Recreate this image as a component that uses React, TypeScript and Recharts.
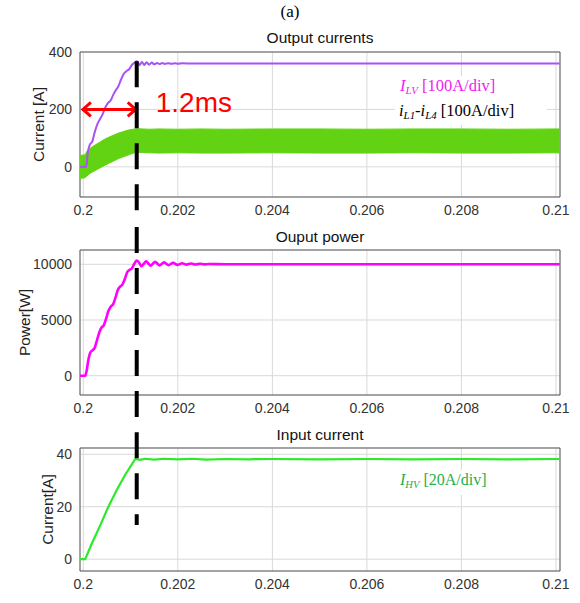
import React from "react";
import {
  ComposedChart,
  Line,
  Area,
  XAxis,
  YAxis,
  CartesianGrid,
  ReferenceLine,
  ReferenceArea,
} from "recharts";

const FONT = "'Liberation Sans', Arial, sans-serif";
const SERIF = "'Liberation Serif', 'Times New Roman', serif";

// shared time axis
const X_MIN = 0.19993;
const X_MAX = 0.210085;
const X_TICKS = [0.2, 0.202, 0.204, 0.206, 0.208, 0.21];

// top panel: I_LV and the iL1..iL4 ripple band
const ILV_T = [0.19993, 0.20006, 0.2001, 0.20014, 0.20019, 0.20024, 0.2003, 0.20035, 0.2004, 0.20046, 0.20052, 0.20058, 0.20063, 0.20069, 0.20074, 0.2008, 0.20086, 0.20091, 0.20097, 0.20103, 0.20108, 0.20114, 0.20119, 0.20124, 0.20129, 0.20134, 0.20139, 0.20145, 0.2015, 0.20156, 0.20161, 0.20167, 0.20172, 0.2018, 0.20186, 0.20195, 0.202, 0.2021, 0.2023, 0.2026, 0.203, 0.205, 0.207, 0.209, 0.21008];
const ILV_V = [0, 0, 55, 78, 88, 120, 150, 165, 180, 205, 222, 232, 250, 268, 280, 305, 325, 333, 340, 355, 362, 368, 354, 365, 355, 364, 356, 363, 357, 362, 358, 361.5, 358.5, 361, 359, 360.8, 359.3, 360.5, 359.6, 360.3, 360, 360, 360, 360, 360];

const BAND_T = [0.19993, 0.20003, 0.20008, 0.20015, 0.20025, 0.20035, 0.20045, 0.20055, 0.20065, 0.20075, 0.20085, 0.20095, 0.20105, 0.20113, 0.20125, 0.2014, 0.2016, 0.202, 0.2025, 0.203, 0.204, 0.205, 0.206, 0.207, 0.208, 0.209, 0.21, 0.21008];
const BAND_HI = [40, 42, 55, 65, 76, 86, 96, 104, 111, 118, 123, 128, 131, 133, 132, 131, 132, 131, 132, 131, 132, 132, 131, 132, 132, 131, 132, 132];
const BAND_LO = [-40, -38, -31, -22, -13, -4, 5, 13, 21, 29, 35, 41, 47, 51, 50, 49, 48, 49, 48, 48, 49, 48, 48, 49, 48, 48, 49, 48];

// middle panel: output power
const P_T = [0.19993, 0.20004, 0.20007, 0.20011, 0.20015, 0.2002, 0.20024, 0.20029, 0.20034, 0.20038, 0.20043, 0.20048, 0.20053, 0.20058, 0.20063, 0.20068, 0.20073, 0.20078, 0.20083, 0.20088, 0.20093, 0.20098, 0.20103, 0.20108, 0.20113, 0.20118, 0.20123, 0.20128, 0.20133, 0.20138, 0.20142, 0.20147, 0.20152, 0.20157, 0.20161, 0.20171, 0.2018, 0.2019, 0.20199, 0.20209, 0.20218, 0.20228, 0.20237, 0.20247, 0.20256, 0.20266, 0.203, 0.205, 0.207, 0.209, 0.21008];
const P_V = [0, 0, 450, 1500, 2100, 2300, 2500, 3200, 3900, 4300, 4500, 5100, 5800, 6200, 6400, 7000, 7700, 8000, 8200, 8700, 9300, 9500, 9650, 10050, 10330, 10150, 9830, 10050, 10270, 10050, 9870, 10050, 10220, 10050, 9900, 10170, 9930, 10130, 9950, 10100, 9970, 10070, 9980, 10050, 9990, 10030, 10000, 10000, 10000, 10000, 10000];

// bottom panel: input current
const IHV_T = [0.19993, 0.20004, 0.20018, 0.20036, 0.20053, 0.20071, 0.20089, 0.2011, 0.2012, 0.2013, 0.2015, 0.2017, 0.202, 0.2023, 0.2026, 0.203, 0.2035, 0.204, 0.205, 0.206, 0.207, 0.208, 0.209, 0.21, 0.21008];
const IHV_V = [0, 0, 6, 13, 20, 26.5, 32.3, 38.2, 37.9, 38.3, 38.0, 38.3, 38.1, 38.3, 38.0, 38.2, 38.1, 38.2, 38.1, 38.2, 38.1, 38.2, 38.1, 38.2, 38.2];

// annotation: 1.2 ms settling marker
const DASH_T = 0.20113;
const ARROW_FROM = 0.19997;

const ilvRows = ILV_T.map((t, i) => ({ t, v: ILV_V[i] }));
const bandRows = BAND_T.map((t, i) => ({ t, band: [BAND_LO[i], BAND_HI[i]] }));
const pRows = P_T.map((t, i) => ({ t, v: P_V[i] }));
const ihvRows = IHV_T.map((t, i) => ({ t, v: IHV_V[i] }));

const RED = "#ff0000";

const fmtX = (v: number) => String(+v.toFixed(3));

const DoubleArrow = (p: any) => {
  const { x1, y1, x2, y2 } = p;
  const a = 9;
  const b = 7;
  return (
    <g>
      <line x1={x1 + 1} y1={y1} x2={x2 - 1} y2={y2} stroke={RED} strokeWidth={3} />
      <polyline points={`${x1 + a},${y1 - b} ${x1 + 1},${y1} ${x1 + a},${y1 + b}`} fill="none" stroke={RED} strokeWidth={3} />
      <polyline points={`${x2 - a},${y2 - b} ${x2 - 1},${y2} ${x2 - a},${y2 + b}`} fill="none" stroke={RED} strokeWidth={3} />
    </g>
  );
};

const msLabel = (props: any) => {
  const vb = props.viewBox;
  return (
    <text x={vb.x + vb.width + 19} y={vb.y + 3} fill={RED} fontSize={28} fontFamily={FONT}>
      1.2ms
    </text>
  );
};

function Panel({
  height,
  top,
  bottom,
  yDomain,
  yTicks,
  yLabel,
  labelOffset,
  data,
  dash,
  children,
}: {
  height: number;
  top: number;
  bottom: number;
  yDomain: [number, number];
  yTicks: number[];
  yLabel: string;
  labelOffset: number;
  data?: any[];
  dash: { from: number; to: number; offset: number };
  children: React.ReactNode;
}) {
  return (
    <ComposedChart
      width={580}
      height={height}
      data={data}
      margin={{ top, right: 20, bottom, left: 10 }}
    >
      <CartesianGrid stroke="#d9d9d9" />
      <XAxis
        dataKey="t"
        type="number"
        domain={[X_MIN, X_MAX]}
        ticks={X_TICKS}
        interval={0}
        allowDataOverflow
        tickFormatter={fmtX}
        axisLine={false}
        tickLine={false}
        height={20}
        tick={{ fontSize: 14, fill: "#333", fontFamily: FONT }}
      />
      <YAxis
        type="number"
        domain={yDomain}
        ticks={yTicks}
        interval={0}
        allowDataOverflow
        axisLine={false}
        tickLine={false}
        width={70}
        tick={{ fontSize: 14, fill: "#333", fontFamily: FONT }}
        label={{
          value: yLabel,
          angle: -90,
          position: "insideLeft",
          offset: labelOffset,
          fontSize: 15.5,
          fill: "#222",
          fontFamily: FONT,
          style: { textAnchor: "middle" },
        }}
      />
      <ReferenceArea
        x1={X_MIN}
        x2={X_MAX}
        y1={yDomain[0]}
        y2={yDomain[1]}
        fill="none"
        fillOpacity={0}
        stroke="#5a5a5a"
        strokeWidth={1}
        ifOverflow="visible"
      />
      {children}
      <ReferenceLine
        segment={[
          { x: DASH_T, y: dash.from },
          { x: DASH_T, y: dash.to },
        ]}
        stroke="#000"
        strokeWidth={4}
        strokeDasharray="26 15"
        strokeDashoffset={dash.offset}
        ifOverflow="visible"
      />
    </ComposedChart>
  );
}

const legendBox: React.CSSProperties = {
  position: "absolute",
  fontFamily: SERIF,
  background: "#fff",
  lineHeight: "20px",
  whiteSpace: "nowrap",
  paddingLeft: 4,
};
const subStyle: React.CSSProperties = { fontSize: "0.66em", verticalAlign: "-0.28em", fontStyle: "italic" };

const titleStyle = (top: number): React.CSSProperties => ({
  position: "absolute",
  left: 80,
  width: 480,
  top,
  textAlign: "center",
  fontFamily: FONT,
  fontSize: 15.5,
  lineHeight: "18px",
  color: "#111",
});

export default function App() {
  return (
    <div style={{ position: "absolute", left: 0, top: 0, width: 580, height: 603, background: "#fff", overflow: "hidden" }}>
      <div style={{ position: "absolute", top: 0, left: 0 }}>
        <Panel
          height={222}
          top={52}
          bottom={5}
          yDomain={[-105, 400]}
          yTicks={[0, 200, 400]}
          yLabel="Current [A]"
          labelOffset={28}
          data={bandRows}
          dash={{ from: 368, to: -195, offset: 0 }}
        >
          <Area dataKey="band" type="monotone" fill="#62d313" fillOpacity={1} stroke="#62d313" strokeWidth={1} isAnimationActive={false} />
          <Line data={ilvRows} dataKey="v" type="monotone" stroke="#a752f5" strokeWidth={2} dot={false} isAnimationActive={false} />
          <ReferenceLine
            segment={[
              { x: ARROW_FROM, y: 200 },
              { x: DASH_T, y: 200 },
            ]}
            stroke={RED}
            shape={DoubleArrow}
            label={msLabel}
            ifOverflow="visible"
          />
        </Panel>
      </div>
      <div style={{ position: "absolute", top: 222, left: 0 }}>
        <Panel
          height={198}
          top={28}
          bottom={5}
          yDomain={[-1733, 11284]}
          yTicks={[0, 5000, 10000]}
          yLabel="Power[W]"
          labelOffset={14}
          dash={{ from: 13800, to: -4000, offset: 36 }}
        >
          <Line data={pRows} dataKey="v" type="monotone" stroke="#ff00ff" strokeWidth={2.6} dot={false} isAnimationActive={false} />
        </Panel>
      </div>
      <div style={{ position: "absolute", top: 420, left: 0 }}>
        <Panel
          height={183}
          top={28}
          bottom={12}
          yDomain={[-4.5, 42.4]}
          yTicks={[0, 20, 40]}
          yLabel="Current[A]"
          labelOffset={37}
          dash={{ from: 53, to: 13, offset: 29 }}
        >
          <Line data={ihvRows} dataKey="v" type="linear" stroke="#2bea2b" strokeWidth={2.2} dot={false} isAnimationActive={false} />
        </Panel>
      </div>

      <div style={{ position: "absolute", left: 270, width: 40, top: 3, textAlign: "center", fontFamily: SERIF, fontSize: 17, lineHeight: "18px" }}>(a)</div>
      <div style={titleStyle(29)}>Output currents</div>
      <div style={titleStyle(228)}>Ouput power</div>
      <div style={titleStyle(426)}>Input current</div>

      <div style={{ ...legendBox, left: 396, top: 76, width: 147, fontSize: 16.5, color: "#f020f0" }}>
        <i>I</i>
        <span style={subStyle}>LV</span> [100A/div]
      </div>
      <div style={{ ...legendBox, left: 395, top: 101, width: 148, fontSize: 16.5, color: "#000" }}>
        <i>i</i>
        <span style={subStyle}>L1</span>-<i>i</i>
        <span style={subStyle}>L4</span> [100A/div]
      </div>
      <div style={{ ...legendBox, left: 396, top: 470, fontSize: 16, color: "#22b04b", paddingRight: 4 }}>
        <i>I</i>
        <span style={subStyle}>HV</span> [20A/div]
      </div>
    </div>
  );
}
